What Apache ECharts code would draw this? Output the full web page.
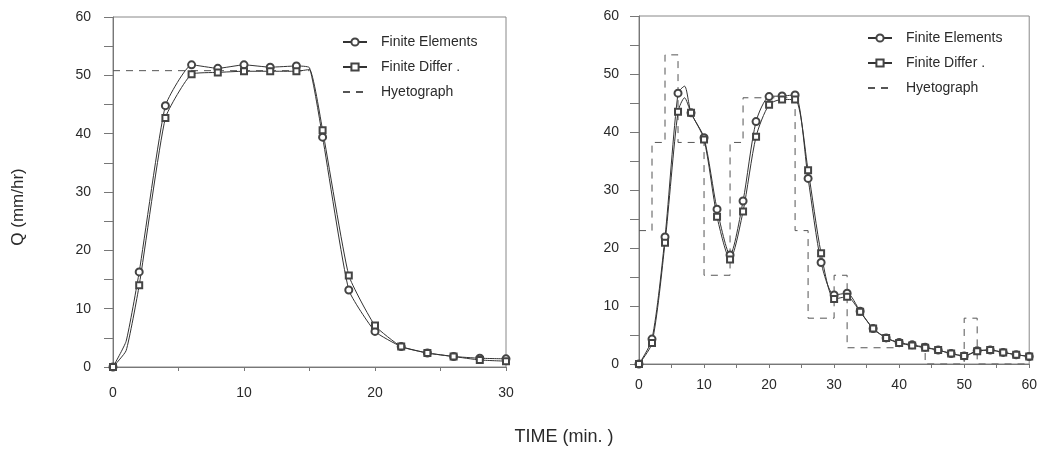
<!DOCTYPE html>
<html>
<head>
<meta charset="utf-8">
<script src="https://cdn.jsdelivr.net/npm/echarts@6/dist/echarts.min.js"></script>
<style>
html,body{margin:0;padding:0;background:#fff;}
#chart{width:1040px;height:450px;}
</style>
</head>
<body>
<div id="chart"></div>
<script>
// ---------- data ----------
const seriesNames = ['Finite Elements', 'Finite Differ .', 'Hyetograph'];
const yTickLabels = [0, 10, 20, 30, 40, 50, 60];

// left panel (uniform rainfall)
const leftTime = [0, 1, 2, 4, 6, 8, 10, 12, 14, 15, 16, 18, 20, 22, 24, 26, 28, 30];
const leftFE   = [0, 4.4, 16.3, 44.8, 51.8, 51.2, 51.8, 51.4, 51.6, 51.3, 39.4, 13.2, 6.1, 3.5, 2.4, 1.8, 1.5, 1.4];
const leftFD   = [0, 2.8, 14.0, 42.7, 50.2, 50.5, 50.7, 50.7, 50.7, 51.0, 40.6, 15.7, 7.1, 3.5, 2.4, 1.8, 1.2, 1.0];
const leftUnmarked = [1, 15];
const leftHyetoTimes  = [0, 15];
const leftHyetoValues = [50.8];

// right panel (variable rainfall)
const rightTime = [0, 2, 4, 6, 7, 8, 10, 12, 14, 16, 18, 20, 22, 24, 26, 28, 30, 32, 34, 36, 38, 40, 42, 44, 46, 48, 50, 52, 54, 56, 58, 60];
const rightFE   = [0, 4.3, 21.9, 46.7, 47.9, 43.3, 39.0, 26.7, 18.8, 28.1, 41.8, 46.1, 46.2, 46.4, 32.0, 17.5, 11.9, 12.2, 9.1, 6.1, 4.5, 3.7, 3.3, 2.9, 2.4, 1.8, 1.4, 2.3, 2.4, 2.0, 1.6, 1.3];
const rightFD   = [0, 3.6, 20.9, 43.5, 45.9, 43.3, 38.7, 25.4, 18.0, 26.3, 39.2, 44.7, 45.6, 45.6, 33.4, 19.1, 11.2, 11.6, 9.0, 6.1, 4.5, 3.6, 3.2, 2.8, 2.4, 1.8, 1.4, 2.2, 2.4, 2.0, 1.6, 1.3];
const rightUnmarked = [7];
const rightHyetoTimes  = [0, 2, 4, 6, 10, 14, 16, 24, 26, 30, 32, 40, 44, 50, 52, 60];
const rightHyetoValues = [23, 38.2, 53.3, 38.2, 15.3, 38.2, 45.9, 23, 7.9, 15.3, 2.8, 3.5, 0, 7.9, 0];

// ---------- builders ----------
function curveData(times, vals, unmarked) {
  return times.map((t, i) => unmarked.includes(t)
    ? { value: [t, vals[i]], symbol: 'none' }
    : [t, vals[i]]);
}
function stepData(times, vals) {
  const out = [];
  for (let i = 0; i < vals.length; i++) {
    out.push([times[i], vals[i]]);
    out.push([times[i + 1], vals[i]]);
  }
  return out;
}

const FONT = '"Liberation Sans", Arial, Helvetica, sans-serif';
const INK = '#2a2a2a';

function xAxis(gridIndex, max, margin) {
  return {
    type: 'value', gridIndex, min: 0, max, interval: 5,
    axisLine: { show: true, lineStyle: { color: '#777', width: 1 } },
    axisTick: { show: true, inside: false, length: 4, lineStyle: { color: '#777' } },
    axisLabel: {
      margin, fontSize: 14, color: INK, fontFamily: FONT,
      formatter: v => (v % 10 === 0 ? String(v) : '')
    },
    splitLine: { show: false }
  };
}
function yAxis(gridIndex, margin) {
  return {
    type: 'value', gridIndex, min: 0, max: 60, interval: 5,
    axisLine: { show: true, lineStyle: { color: '#777', width: 1 } },
    axisTick: { show: true, inside: false, length: 9, lineStyle: { color: '#777' } },
    axisLabel: {
      margin, fontSize: 14, color: INK, fontFamily: FONT,
      formatter: v => (yTickLabels.includes(v) ? String(v) : '')
    },
    splitLine: { show: false }
  };
}
const curveLine = { color: '#333', width: 1 };
function feSeries(idx, data, smooth) {
  return {
    name: seriesNames[0], type: 'line', xAxisIndex: idx, yAxisIndex: idx,
    data, smooth, symbol: 'emptyCircle', symbolSize: 7,
    lineStyle: curveLine, itemStyle: { color: '#444', borderWidth: 1 },
    z: 3, animation: false
  };
}
function fdSeries(idx, data, smooth) {
  return {
    name: seriesNames[1], type: 'line', xAxisIndex: idx, yAxisIndex: idx,
    data, smooth, symbol: 'emptyRect', symbolSize: 6,
    lineStyle: curveLine, itemStyle: { color: '#444', borderWidth: 1 },
    z: 3, animation: false
  };
}
function hySeries(idx, data) {
  return {
    name: seriesNames[2], type: 'line', xAxisIndex: idx, yAxisIndex: idx,
    data, symbol: 'none', smooth: false,
    lineStyle: { color: '#555', width: 1, type: [7, 6] },
    itemStyle: { color: '#555' },
    z: 2, animation: false
  };
}
function legend(left, top) {
  return {
    left, top, orient: 'vertical', itemWidth: 24, itemHeight: 9, itemGap: 11,
    selectedMode: false,
    data: [
      { name: seriesNames[0], itemStyle: { borderWidth: 1 } },
      { name: seriesNames[1], itemStyle: { borderWidth: 1 } },
      { name: seriesNames[2], itemStyle: { opacity: 0 } }
    ],
    textStyle: { fontSize: 14, color: INK, fontFamily: FONT, padding: [0, 0, 0, 9] }
  };
}

const chart = echarts.init(document.getElementById('chart'), null, { renderer: 'canvas' });
chart.setOption({
  backgroundColor: '#fff',
  animation: false,
  grid: [
    { left: 113, top: 17, width: 393, height: 350, show: true, borderColor: '#888', borderWidth: 1, containLabel: false },
    { left: 639, top: 16, width: 392, height: 348, show: true, borderColor: '#888', borderWidth: 1, containLabel: false }
  ],
  xAxis: [xAxis(0, 30, 19), xAxis(1, 60, 14)],
  yAxis: [yAxis(0, 22), yAxis(1, 20)],
  legend: [legend(337, 30), legend(862, 26)],
  graphic: [
    { type: 'text', x: 18, y: 207, rotation: Math.PI / 2,
      style: { text: 'Q (mm/hr)', fontSize: 17, fontFamily: FONT, fill: INK, align: 'center', verticalAlign: 'middle' } },
    { type: 'text', x: 564, y: 437,
      style: { text: 'TIME (min. )', fontSize: 18, fontFamily: FONT, fill: INK, align: 'center', verticalAlign: 'middle' } }
  ],
  series: [
    hySeries(0, stepData(leftHyetoTimes, leftHyetoValues)),
    feSeries(0, curveData(leftTime, leftFE, leftUnmarked), 0.15),
    fdSeries(0, curveData(leftTime, leftFD, leftUnmarked), 0.15),
    hySeries(1, stepData(rightHyetoTimes, rightHyetoValues)),
    feSeries(1, curveData(rightTime, rightFE, rightUnmarked), 0.25),
    fdSeries(1, curveData(rightTime, rightFD, rightUnmarked), 0.25)
  ]
});
</script>
</body>
</html>
